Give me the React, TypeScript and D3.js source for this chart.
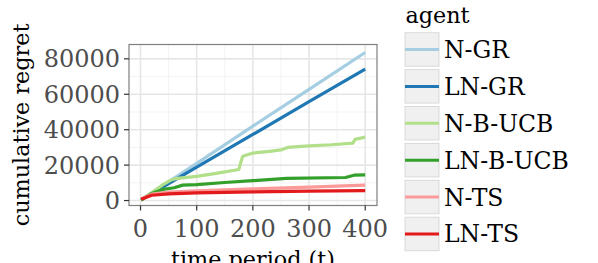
import React from "react";
import * as d3 from "d3";

const agents = ["N-GR", "LN-GR", "N-B-UCB", "LN-B-UCB", "N-TS", "LN-TS"];
const colors = ["#a6cee3", "#1f78b4", "#b2df8a", "#33a02c", "#fb9a99", "#e31a1c"];

const tNGR = [1, 100, 200, 300, 400];
const vNGR = [400, 21000, 42000, 62800, 83600];
const tLNGR = [1, 100, 200, 300, 400];
const vLNGR = [400, 18800, 37300, 55800, 74200];
const tNBUCB = [1, 20, 40, 55, 65, 100, 140, 175, 178, 182, 200, 230, 250, 262, 300, 340, 378, 382, 400];
const vNBUCB = [300, 4500, 9000, 11700, 12500, 13600, 15600, 17500, 21000, 25000, 26800, 27800, 28600, 30000, 30900, 31500, 32400, 34500, 35800];
const tLNBUCB = [1, 20, 40, 60, 75, 100, 150, 200, 260, 365, 380, 400];
const vLNBUCB = [200, 4000, 6300, 7200, 8700, 9000, 10200, 11200, 12500, 13000, 14300, 14500];
const tNTS = [1, 20, 50, 100, 200, 300, 400];
const vNTS = [800, 3600, 4800, 5500, 6600, 7600, 8700];
const tLNTS = [1, 20, 50, 100, 200, 300, 400];
const vLNTS = [700, 3000, 3800, 4300, 4900, 5300, 5650];

const seriesT = [tNGR, tLNGR, tNBUCB, tLNBUCB, tNTS, tLNTS];
const seriesV = [vNGR, vLNGR, vNBUCB, vLNBUCB, vNTS, vLNTS];

const xTicks = [0, 100, 200, 300, 400];
const xMinor = [50, 150, 250, 350];
const yTicks = [0, 20000, 40000, 60000, 80000];
const yMinor = [10000, 30000, 50000, 70000];

export default function App() {
  const W = 598, H = 263;
  const L = 129, R = 377, T = 44.5, B = 205.5;
  const x = d3.scaleLinear().domain([-20.5, 421]).range([L, R]);
  const y = d3.scaleLinear().domain([-2800, 88100]).range([B, T]);
  const line = d3.line<[number, number]>().x(d => x(d[0])).y(d => y(d[1]));
  const font = "'DejaVu Serif', serif";
  const fsTick = 24;
  const fsTitle = 22.3;
  const fsLeg = 23.5;
  return (
    <svg width={W} height={H} style={{ position: "absolute", left: 0, top: 0 }} fontFamily={font}>
      <rect x={0} y={0} width={W} height={H} fill="white" />
      <defs>
        <clipPath id="pc"><rect x={L} y={T} width={R - L} height={B - T} /></clipPath>
      </defs>
      {xMinor.map(v => <line key={"xm" + v} x1={x(v)} x2={x(v)} y1={T} y2={B} stroke="#f3f3f3" strokeWidth={1} />)}
      {yMinor.map(v => <line key={"ym" + v} x1={L} x2={R} y1={y(v)} y2={y(v)} stroke="#f3f3f3" strokeWidth={1} />)}
      {xTicks.map(v => <line key={"xg" + v} x1={x(v)} x2={x(v)} y1={T} y2={B} stroke="#e6e6e6" strokeWidth={1.6} />)}
      {yTicks.map(v => <line key={"yg" + v} x1={L} x2={R} y1={y(v)} y2={y(v)} stroke="#e6e6e6" strokeWidth={1.6} />)}
      <g clipPath="url(#pc)">
        {agents.map((a, i) => (
          <path key={a} d={line(seriesT[i].map((t, j) => [t, seriesV[i][j]] as [number, number])) || ""}
            fill="none" stroke={colors[i]} strokeWidth={3.2} strokeLinejoin="round" />
        ))}
      </g>
      <rect x={L} y={T} width={R - L} height={B - T} fill="none" stroke="#7f7f7f" strokeWidth={1.2} />
      {yTicks.map(v => (
        <g key={"yt" + v}>
          <line x1={L - 5} x2={L} y1={y(v)} y2={y(v)} stroke="#333" strokeWidth={1.2} />
          <text x={L - 9} y={y(v)} dy="0.36em" textAnchor="end" fontSize={fsTick} fill="#4d4d4d">{v}</text>
        </g>
      ))}
      {xTicks.map(v => (
        <g key={"xt" + v}>
          <line x1={x(v)} x2={x(v)} y1={B} y2={B + 5} stroke="#333" strokeWidth={1.2} />
          <text x={x(v)} y={B + 31.5} textAnchor="middle" fontSize={fsTick} fill="#4d4d4d">{v}</text>
        </g>
      ))}
      <text x={(L + R) / 2} y={266.5} textAnchor="middle" fontSize={fsTitle} fill="black">time period (t)</text>
      <text transform={`translate(28.5,${(T + B) / 2}) rotate(-90)`} textAnchor="middle" fontSize={fsTitle} fill="black">cumulative regret</text>
      <text x={405.5} y={23} fontSize={fsTitle} fill="black">agent</text>
      {agents.map((a, i) => {
        const ky = 32.7 + i * 36.9;
        return (
          <g key={"lg" + a}>
            <rect x={405} y={ky} width={34} height={33.5} fill="#f0f0f0" stroke="#d9d9d9" strokeWidth={1} />
            <line x1={405} x2={439} y1={ky + 16.8} y2={ky + 16.8} stroke={colors[i]} strokeWidth={3} />
            <text x={444} y={ky + 16.8} dy="0.36em" fontSize={fsLeg} fill="black">{a}</text>
          </g>
        );
      })}
    </svg>
  );
}
